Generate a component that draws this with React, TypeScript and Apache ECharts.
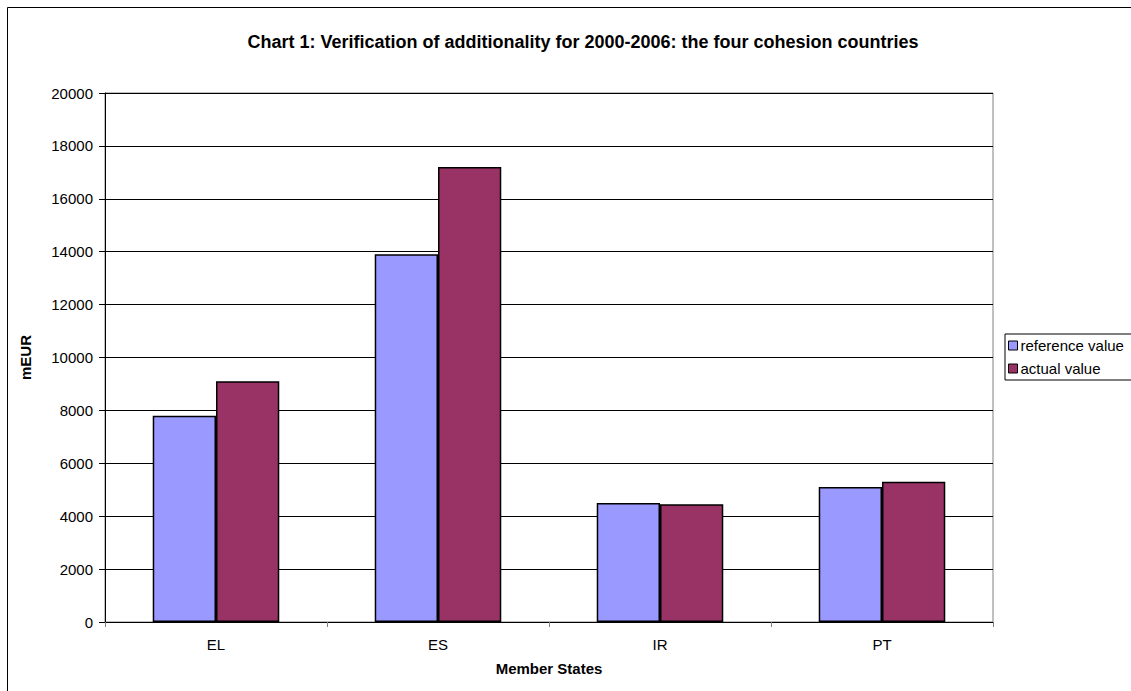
import React, { useEffect, useRef } from "react";
import * as echarts from "echarts";

const categories = ["EL", "ES", "IR", "PT"];
const referenceValue = [7800, 13900, 4500, 5100];
const actualValue = [9100, 17200, 4450, 5300];
const seriesNames = ["reference value", "actual value"];
const titleText = "Chart 1: Verification of additionality for 2000-2006: the four cohesion countries";

const FONT = "'Liberation Sans', Arial, sans-serif";

export default function App() {
  const ref = useRef<HTMLDivElement>(null);
  useEffect(() => {
    if (!ref.current) return;
    const chart = echarts.init(ref.current, undefined, { renderer: "svg" });
    chart.setOption({
      animation: false,
      backgroundColor: "#ffffff",
      textStyle: { fontFamily: FONT, color: "#000" },
      title: {
        text: titleText,
        left: 578,
        top: 28,
        textAlign: "center",
        textStyle: { fontFamily: FONT, fontSize: 18, fontWeight: "bold", color: "#000" },
      },
      graphic: [
        {
          type: "rect",
          shape: { x: 7.5, y: 7.5, width: 1300, height: 800 },
          style: { fill: "none", stroke: "#000", lineWidth: 1 },
          silent: true,
          z: 100,
        },
      ],
      legend: {
        orient: "vertical",
        left: 1005,
        top: 334,
        padding: [4, 30, 4, 3],
        itemGap: 8,
        itemWidth: 9,
        itemHeight: 9,
        icon: "rect",
        borderColor: "#000",
        borderWidth: 1,
        backgroundColor: "#fff",
        itemStyle: { borderColor: "#000", borderWidth: 1 },
        textStyle: { fontFamily: FONT, fontSize: 15, color: "#000", padding: [0, 0, 0, -2] },
        data: seriesNames,
      },
      grid: {
        left: 105,
        right: 138,
        top: 93,
        bottom: 69,
        show: true,
        borderColor: "#808080",
        borderWidth: 1,
        backgroundColor: "transparent",
      },
      xAxis: {
        type: "category",
        data: categories,
        name: "Member States",
        nameLocation: "middle",
        nameGap: 39,
        nameTextStyle: { fontFamily: FONT, fontSize: 15, fontWeight: "bold", color: "#000" },
        axisLine: { lineStyle: { color: "#000", width: 1 } },
        axisTick: { show: true, alignWithLabel: false, length: 5, lineStyle: { color: "#808080" } },
        axisLabel: { fontFamily: FONT, fontSize: 15, color: "#000", margin: 15 },
        splitLine: { show: false },
      },
      yAxis: {
        type: "value",
        min: 0,
        max: 20000,
        interval: 2000,
        name: "mEUR",
        nameLocation: "middle",
        nameGap: 72,
        nameRotate: 90,
        nameTextStyle: { fontFamily: FONT, fontSize: 15, fontWeight: "bold", color: "#000" },
        axisLine: { show: true, lineStyle: { color: "#000", width: 1 } },
        axisTick: { show: true, inside: false, length: 6, lineStyle: { color: "#000" } },
        axisLabel: {
          fontFamily: FONT,
          fontSize: 15,
          color: "#000",
          margin: 12,
          formatter: (v: number) => String(v),
        },
        splitLine: { show: true, lineStyle: { color: "#000", width: 1 } },
      },
      series: [
        {
          name: seriesNames[0],
          type: "bar",
          data: referenceValue,
          barGap: "0%",
          barCategoryGap: "43%",
          itemStyle: { color: "#9999FF", borderColor: "#000", borderWidth: 1.5 },
        },
        {
          name: seriesNames[1],
          type: "bar",
          data: actualValue,
          barGap: "0%",
          barCategoryGap: "43%",
          itemStyle: { color: "#993366", borderColor: "#000", borderWidth: 1.5 },
        },
      ],
    });
    return () => chart.dispose();
  }, []);
  return (
    <div
      ref={ref}
      style={{ position: "absolute", left: 0, top: 0, width: 1131, height: 691 }}
    />
  );
}
